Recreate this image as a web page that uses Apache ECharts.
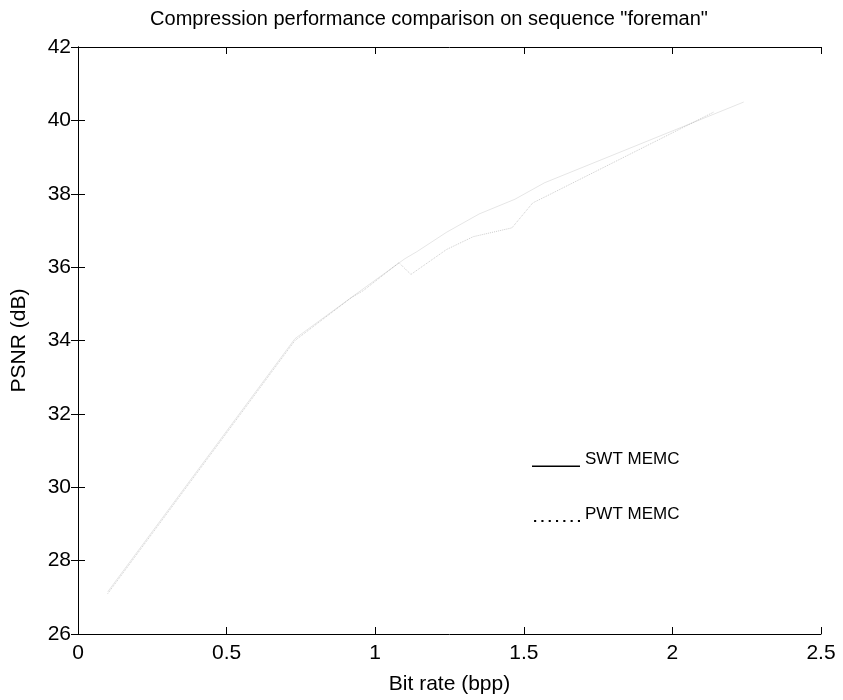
<!DOCTYPE html>
<html>
<head>
<meta charset="utf-8">
<script src="https://cdn.jsdelivr.net/npm/echarts@6/dist/echarts.min.js"></script>
<style>html,body{margin:0;padding:0;background:#fff}#c{width:843px;height:700px}</style>
</head>
<body>
<div id="c"></div>
<script>
var titleText = 'Compression performance comparison on sequence "foreman"';
var xTicks = [0, 0.5, 1, 1.5, 2, 2.5];
var yTicks = [26, 28, 30, 32, 34, 36, 38, 40, 42];
var seriesNames = ['SWT MEMC', 'PWT MEMC'];
var swtRate = [0.10, 0.73, 0.86, 0.97, 1.10, 1.14, 1.24, 1.35, 1.47, 1.57, 2.24];
var swtPsnr = [27.15, 34.05, 34.82, 35.47, 36.23, 36.42, 36.95, 37.45, 37.85, 38.30, 40.50];
var pwtRate = [0.10, 0.73, 0.92, 0.96, 1.08, 1.12, 1.24, 1.33, 1.46, 1.53, 1.58, 2.14];
var pwtPsnr = [27.10, 34.00, 35.17, 35.36, 36.12, 35.80, 36.48, 36.83, 37.07, 37.75, 37.95, 40.23];

function pairs(xs, ys){ return xs.map(function(x,i){ return [x, ys[i]]; }); }
function dottedPath(){
  var p = '';
  for (var i = 0; i < 7; i++) {
    var x = 2 + i * 7;
    p += 'M' + x + ',12.5 L' + (x + 2) + ',12.5 L' + (x + 2) + ',14.5 L' + x + ',14.5 Z ';
  }
  return 'path://M0,0 L0.01,0 L0.01,0.01 Z ' + p;
}

var font = 'Liberation Sans, Arial, sans-serif';
var chart = echarts.init(document.getElementById('c'));
var axisLine = {show:true, lineStyle:{color:'#000', width:1}};
var tick = {show:true, inside:true, length:7, lineStyle:{color:'#000'}};
chart.setOption({
  animation:false,
  backgroundColor:'#fff',
  title:{text:titleText, left:424, top:4, textAlign:'center',
    textStyle:{fontFamily:font, fontSize:20, fontWeight:'normal', color:'#000'}},
  grid:{left:78, right:22, top:47, bottom:65, containLabel:false},
  legend:{
    orient:'vertical', left:527, top:446, itemWidth:48, itemHeight:16, itemGap:38,
    textStyle:{fontFamily:font, fontSize:17, color:'#000'},
    data:[
      {name:seriesNames[0], icon:'path://M0,0 L0.01,0 L0.01,0.01 Z M0,13.5 L48,13.5 L48,14.8 L0,14.8 Z',
       itemStyle:{color:'#000', opacity:1, borderWidth:0}, lineStyle:{width:0, opacity:0}},
      {name:seriesNames[1], icon:dottedPath(),
       itemStyle:{color:'#000', opacity:1, borderWidth:0}, lineStyle:{width:0, opacity:0}}
    ]
  },
  xAxis:[
    {type:'value', min:0, max:2.5, interval:0.5, position:'bottom',
     name:'Bit rate (bpp)', nameLocation:'middle', nameGap:40,
     nameTextStyle:{fontFamily:font, fontSize:21, color:'#000'},
     axisLine:axisLine, axisTick:tick, splitLine:{show:false},
     axisLabel:{fontFamily:font, fontSize:21, color:'#000', margin:9,
       formatter:function(v){return String(v);}}},
    {type:'value', min:0, max:2.5, interval:0.5, position:'top',
     axisLine:axisLine, axisTick:tick, splitLine:{show:false}, axisLabel:{show:false}}
  ],
  yAxis:[
    {type:'value', min:26, max:42, interval:2, position:'left',
     name:'PSNR (dB)', nameLocation:'middle', nameGap:48, nameRotate:90,
     nameTextStyle:{fontFamily:font, fontSize:21, color:'#000'},
     axisLine:axisLine, axisTick:tick, splitLine:{show:false},
     axisLabel:{fontFamily:font, fontSize:21, color:'#000', margin:7}},
    {type:'value', min:26, max:42, interval:2, position:'right',
     axisLine:axisLine, axisTick:tick, splitLine:{show:false}, axisLabel:{show:false}}
  ],
  series:[
    {name:seriesNames[0], type:'line', data:pairs(swtRate, swtPsnr), showSymbol:false, symbol:'none',
     lineStyle:{color:'#000', width:1, opacity:0.1}, itemStyle:{color:'#000'}},
    {name:seriesNames[1], type:'line', data:pairs(pwtRate, pwtPsnr), showSymbol:false, symbol:'none',
     lineStyle:{color:'#000', width:1, type:'dotted', opacity:0.2}, itemStyle:{color:'#000'}}
  ]
});
</script>
</body>
</html>
